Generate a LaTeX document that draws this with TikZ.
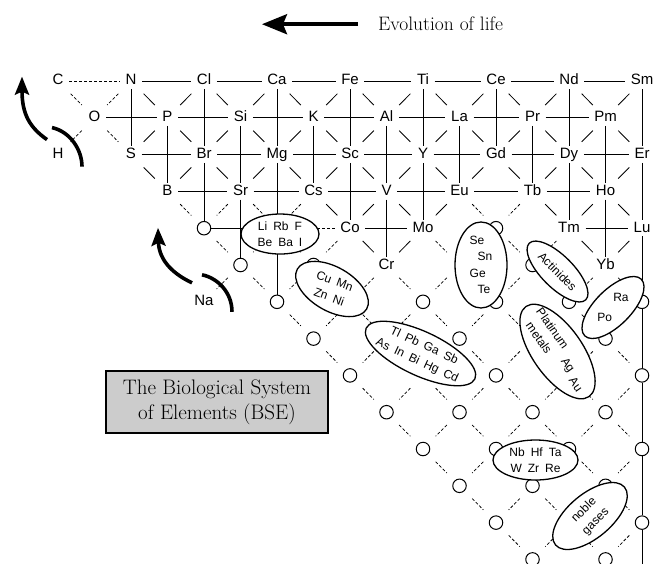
\documentclass[tikz,border=0pt]{standalone}
\usepackage{fontspec}
\newfontfamily\elfont{Liberation Sans}
\usetikzlibrary{arrows.meta, shapes.geometric}
\newcommand{\elgap}{\hspace{6pt}}

\begin{document}
\begin{tikzpicture}[x=36.5pt, y=-36.8pt,
    el/.style={font={\elfont\fontsize{15}{17}\selectfont}, inner xsep=5.5pt, inner ysep=1.5pt,
      text height=10.5pt, text depth=2.5pt},
    hole/.style={circle, draw, line width=1pt, fill=white, minimum size=13.5pt, inner sep=0pt},
    grp/.style={ellipse, draw, line width=1.3pt, fill=white, inner sep=0pt},
    grptext/.style={font={\elfont\fontsize{12}{16.5}\selectfont}, align=center, inner sep=0pt},
    bond/.style={line width=0.85pt},
    weak/.style={line width=0.75pt, dash pattern=on 3pt off 2pt},
    diag/.style={shorten >=18pt, shorten <=18pt},
    swing/.style={line width=3.6pt},
    swingtip/.style={swing, -{Stealth[length=18pt, width=14pt, inset=3pt]}}]
  \useasboundingbox (-1.589,-2.201) rectangle (16.301,13.098);
  \clip (-1.589,-2.201) rectangle (16.301,13.098);

  % the elements, row by row
  \foreach \c/\s in {0/C,2/N,4/Cl,6/Ca,8/Fe,10/Ti,12/Ce,14/Nd,16/Sm}
    \node[el] (l\c-0) at (\c,0) {\s};
  \foreach \c/\s in {1/O,3/P,5/Si,7/K,9/Al,11/La,13/Pr,15/Pm}
    \node[el] (l\c-1) at (\c,1) {\s};
  \foreach \c/\s in {0/H,2/S,4/Br,6/Mg,8/Sc,10/Y,12/Gd,14/Dy,16/Er}
    \node[el] (l\c-2) at (\c,2) {\s};
  \foreach \c/\s in {3/B,5/Sr,7/Cs,9/V,11/Eu,13/Tb,15/Ho}
    \node[el] (l\c-3) at (\c,3) {\s};
  \foreach \c/\r/\s in {8/4/Co,10/4/Mo,14/4/Tm,16/4/Lu,9/5/Cr,15/5/Yb,4/6/Na}
    \node[el] (l\c-\r) at (\c,\r) {\s};

  % empty places
  \foreach \c/\r in {4/4,12/4,5/5,7/5,13/5,6/6,10/6,12/6,14/6,16/6,7/7,11/7,15/7,
      8/8,12/8,16/8,9/9,11/9,13/9,15/9,10/10,12/10,14/10,16/10,11/11,13/11,15/11,
      12/12,16/12,13/13,15/13,14/14,16/14}
    \node[hole] (l\c-\r) at (\c,\r) {};
  % places under the groups
  \foreach \c/\r in {6/4,11/5,8/6,9/7,13/7,10/8,14/8,14/12}
    \coordinate (l\c-\r) at (\c,\r);

  % horizontal bonds
  \draw[weak] (l0-0) -- (l2-0);
  \foreach \r/\cs in {0/{2,4,...,14},1/{1,3,...,13},2/{2,4,...,14},3/{3,5,...,13},4/{4,8,14}}
    \foreach \c in \cs {
      \pgfmathtruncatemacro\d{\c+2}
      \draw[bond] (l\c-\r) -- (l\d-\r);
    }
  \draw[weak] (l6-4) -- (l8-4);

  % vertical bonds
  \foreach \c/\r in {2/0,3/1,4/0,4/2,5/1,5/3,6/0,6/2,6/4,7/1,8/0,8/2,9/1,9/3,10/0,10/2,
      11/1,12/0,13/1,14/0,14/2,15/1,15/3,16/0,16/2,16/4,16/6,16/8,16/10,16/12} {
    \pgfmathtruncatemacro\rr{\r+2}
    \draw[bond] (l\c-\r) -- (l\c-\rr);
  }

  % diagonal bonds
  \foreach \r/\cs in {0/{2,4,...,14},1/{3,5,...,15},2/{2,4,...,14},3/{7,9,13,15},4/{8,14}}
    \foreach \c in \cs {
      \pgfmathtruncatemacro\cc{\c+1}\pgfmathtruncatemacro\rr{\r+1}
      \draw[bond, diag] (l\c-\r.center) -- (l\cc-\rr.center);
    }
  \foreach \r/\cs in {0/{4,6,...,16},1/{3,5,...,15},2/{4,6,...,16},3/{9,11,15},4/{10,16}}
    \foreach \c in \cs {
      \pgfmathtruncatemacro\cc{\c-1}\pgfmathtruncatemacro\rr{\r+1}
      \draw[bond, diag] (l\c-\r.center) -- (l\cc-\rr.center);
    }
  \foreach \a/\b in {0-0/1-1,2-0/1-1,1-1/2-2,1-1/0-2,3-3/4-4,5-3/4-4,5-3/6-4,7-3/6-4,
      11-3/12-4,13-3/12-4,4-4/5-5,6-4/5-5,6-4/7-5,8-4/7-5,10-4/11-5,12-4/11-5,
      12-4/13-5,14-4/13-5,5-5/4-6}
    \draw[weak, diag] (l\a.center) -- (l\b.center);
  \foreach \r [evaluate=\r as \rn using int(\r+1), evaluate=\r as \rs using int(\r+2)] in {5,...,13}
    \foreach \c in {\r,\rs,...,16} {
      \ifnum\c<16 \pgfmathtruncatemacro\cc{\c+1}\draw[weak, diag] (l\c-\r.center) -- (l\cc-\rn.center);\fi
      \ifnum\c>\r \pgfmathtruncatemacro\cc{\c-1}\draw[weak, diag] (l\c-\r.center) -- (l\cc-\rn.center);\fi
    }

  % groups of elements
  \node[grp, minimum width=78pt, minimum height=40pt] (liG) at (6.082,4.158) {};
  \node[grptext] at (liG) {Li\elgap Rb\elgap F\\Be\elgap Ba\elgap I};
  \node[grp, rotate=-30, minimum width=80pt, minimum height=44pt] (cuG) at (7.507,5.652) {};
  \node[grptext, rotate=-20] at (cuG) {Cu\elgap Mn\\Zn\elgap Ni};
  \node[grp, rotate=-25, minimum width=120pt, minimum height=44pt] (tlG) at (9.932,7.405) {};
  \node[grptext, rotate=-25] at (tlG) {Tl\elgap Pb\elgap Ga\elgap Sb\\As\elgap In\elgap Bi\elgap Hg\elgap Cd};
  \node[grp, minimum width=52pt, minimum height=86pt] (seG) at (11.589,5.0) {};
  \node[grptext, align=left] at (seG) {Se\\\hspace{8pt}Sn\\Ge\\\hspace{8pt}Te};
  \node[grp, rotate=-45, minimum width=80pt, minimum height=32pt] (actG) at (13.685,5.177) {};
  \node[grptext, rotate=-45] at (actG) {Actinides};
  \node[grp, rotate=45, minimum width=80pt, minimum height=36pt] (raG) at (15.205,6.155) {};
  \node[grptext, align=left, font={\elfont\fontsize{12}{20}\selectfont}] at (raG) {\hspace{16pt}Ra\\Po};
  \node[grp, rotate=-55, minimum width=110pt, minimum height=50pt] (ptG) at (13.685,7.351) {};
  \node[grptext, rotate=-55] at (ptG)
    {\begin{tabular}{@{}c@{}}Platinum\\metals\end{tabular}\hspace{8pt}Ag\hspace{6pt}\raisebox{-5pt}{Au}};
  \node[grp, minimum width=85pt, minimum height=40pt] (nbG) at (13.082,10.299) {};
  \node[grptext] at (nbG) {Nb\elgap Hf\elgap Ta\\W\elgap Zr\elgap Re};
  \node[grp, rotate=40, minimum width=90pt, minimum height=44pt] (gasG) at (14.575,11.821) {};
  \node[grptext, rotate=45] at (gasG) {noble\\gases};

  % title box
  \node[draw, line width=1.6pt, fill=black!20, minimum width=222pt, minimum height=62pt,
    align=center, font={\fontsize{21}{25}\selectfont}] (bse) at (4.356,8.723)
    {The Biological System\\of Elements (BSE)};

  % direction of evolution
  \node[anchor=base west, inner sep=0pt, font={\fontsize{19.5}{22}\selectfont}] (evo)
    at (8.767,-1.359) {Evolution of life};
  \coordinate (evoTip) at ([xshift=-116pt]evo.west);
  \draw[line width=3.5pt, -{Stealth[length=25pt, width=20pt, inset=4pt]}, shorten <=20pt]
    (evo.west) -- (evoTip);

  % turning arrows at H and Na
  \draw[swing] ([shift={(24pt,-12pt)}]l0-2.center) .. controls +(0pt,17pt) and +(18pt,-4pt)
    .. ([shift={(-6pt,27pt)}]l0-2.center);
  \draw[swingtip] ([shift={(-11pt,15pt)}]l0-2.center) .. controls +(-17pt,12pt) and +(0pt,-38pt)
    .. ([shift={(-36pt,78pt)}]l0-2.center);
  \draw[swing] ([shift={(28pt,-10pt)}]l4-6.center) .. controls +(0pt,20pt) and +(15pt,-3pt)
    .. ([shift={(-2pt,27pt)}]l4-6.center);
  \draw[swingtip] ([shift={(-12pt,19pt)}]l4-6.center) .. controls +(-17pt,8pt) and +(1pt,-34pt)
    .. ([shift={(-46pt,74pt)}]l4-6.center);
\end{tikzpicture}
\end{document}
